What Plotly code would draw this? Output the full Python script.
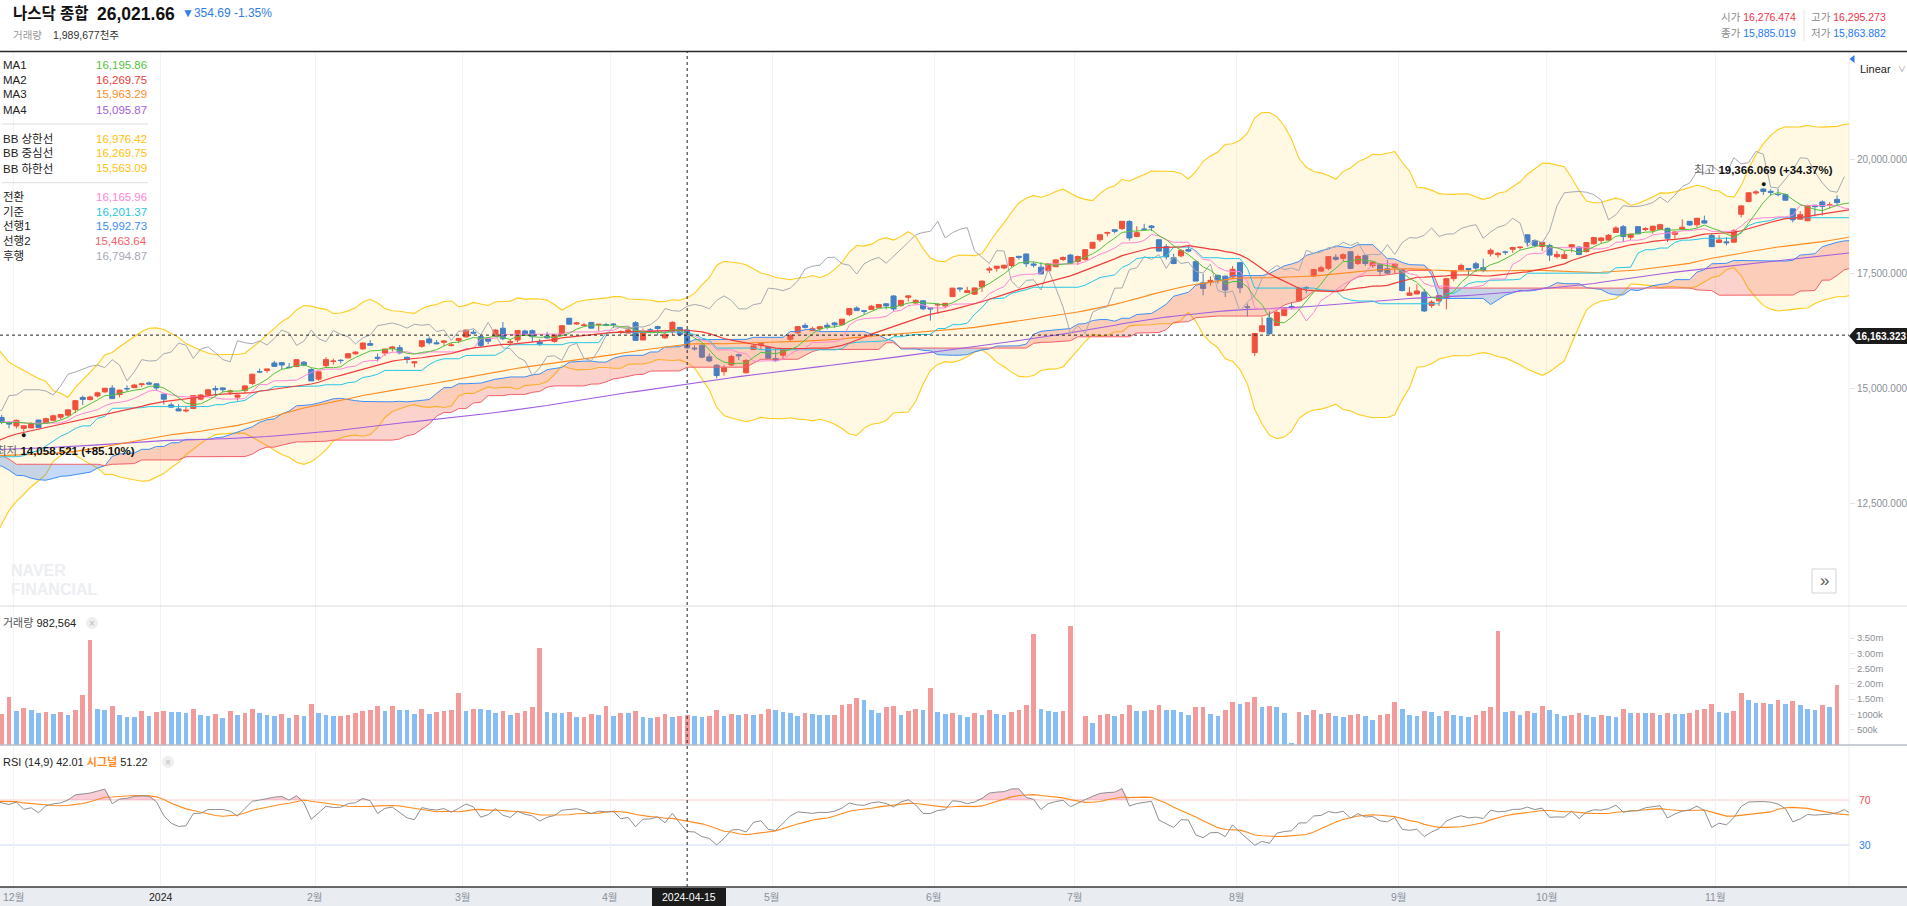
import numpy as np
import pandas as pd
import plotly.graph_objects as go

# ---------------- data (NASDAQ Composite, daily) ----------------
# closes used only as indicator warm-up (Jun 1 - Nov 28, 2023)
warm_closes = [
    13100.98, 13240.77, 13229.43, 13276.42, 13104.90, 13238.52, 13259.14, 13461.92, 13573.32, 13626.48,
    13782.82, 13689.57, 13667.29, 13502.20, 13630.61, 13492.52, 13335.78, 13555.67, 13591.75, 13591.33,
    13787.92,
    13816.77, 13791.65, 13679.04, 13660.72, 13685.48, 13760.70, 13918.96, 14138.57, 14113.70, 14244.95,
    14353.64, 14358.02, 14063.31, 14032.81, 14058.87, 14144.56, 14127.28, 14050.11, 14316.66, 14346.02,
    14283.91, 13973.45, 13959.72, 13909.24, 13994.40, 13884.32, 13722.02, 13737.99, 13644.85, 13788.33,
    13631.05, 13474.63, 13316.93, 13290.78, 13497.59, 13505.87, 13721.03, 13463.97, 13590.65, 13705.13,
    14019.31, 14095.21, 14034.97,
    14031.82, 14020.95, 13872.47, 13748.83, 13761.53, 13917.89, 13773.61, 13813.59, 13926.05, 13708.34,
    13710.24, 13678.19, 13469.13, 13223.98, 13211.81, 13271.32, 13063.61, 13092.85, 13201.28, 13219.32,
    13307.77, 13059.47, 13236.01, 13219.83, 13431.34, 13484.24, 13562.84, 13659.68, 13574.22, 13407.23,
    13567.98, 13533.75, 13314.30, 13186.18, 12983.81, 13018.33, 13139.88, 12821.22, 12595.61, 12643.01,
    12789.48, 12851.24,
    13061.47, 13294.19, 13478.28, 13518.78, 13639.86, 13650.41, 13521.45, 13798.11, 13767.74, 14094.38,
    14103.84, 14113.67, 14125.48, 14284.53, 14199.98, 14265.86, 14250.85, 14241.02, 14281.76,
]

# visible candles: Nov 29, 2023 (index -2) ... Nov 25, 2024 (index 247)
opens = [
    14367, 14250, 14181, 14128, 14137, 14310, 14240, 14305, 14373, 14416,
    14540, 14803, 14758, 14836, 14925, 15008, 14867, 14997, 15017, 15083,
    15121, 15100, 14874, 14641, 14554, 14509, 14564, 14767, 14862, 14999,
    15012, 14920, 14810, 14955, 15108, 15366, 15392, 15556, 15563, 15464,
    15478, 15574, 15413, 15203, 15497, 15590, 15615, 15668, 15755, 15863,
    15979, 15681, 15771, 15870, 15890, 15680, 15556, 15922, 16080, 15996,
    16006, 15940, 16048, 16124, 16226, 16131, 16100, 16139, 16313, 16002,
    16058, 16254, 16261, 16010, 16143, 16025, 16192, 16532, 16407, 16375,
    16440, 16396, 16394, 16405, 16233, 16208, 16434, 16057, 16282, 16349,
    16104, 16233, 16331, 16276.47, 15880, 15942, 15689, 15507, 15366, 15513,
    15736, 15342, 15849, 15952, 15897, 15652, 15725, 16071, 16215, 16374,
    16260, 16299, 16378, 16429, 16392, 16614, 16755, 16696, 16724, 16760,
    16847, 17018, 16808, 16988, 16863, 16912, 16759, 16823, 16801, 17004,
    17192, 17094, 17058, 17214, 17582, 17620, 17628, 17683, 17883, 17934,
    17717, 17646, 17567, 17657, 17815, 17910, 17769, 17812, 18059, 18244,
    18388, 18462, 18488, 18644, 18316, 18475, 18545, 18244, 18093, 17853,
    17893, 18029, 17766, 17304, 17318, 17466, 17450, 17436, 17744, 16778,
    15783, 16240, 16537, 16375, 16590, 16789, 16911, 17203, 17453, 17560,
    17620, 17862, 17840, 17983, 17726, 17900, 17678, 17710, 17612, 17636,
    17590, 17033, 17062, 17101, 16812, 16911, 16974, 17396, 17588, 17617,
    17721, 17636, 17938, 17918, 17976, 18038, 18074, 18352, 18227, 18096,
    18121, 17876, 17838, 18082, 18085, 17987, 18156, 18230, 18237, 18403,
    18528, 18299, 18530, 18466, 18450, 18470, 18493, 18363, 18474, 18646,
    18571, 18659, 18335, 18186, 18199, 18192, 18799, 19077, 19264, 19352,
    19301, 19232, 19229, 18919, 18692, 18658, 18999, 19070, 18997, 19125,
]
highs = [
    14424, 14270, 14317, 14197, 14264, 14317, 14365, 14428, 14433, 14537,
    14734, 14844, 14840, 14930, 15014, 15072, 14972, 15067, 15101, 15101,
    15150, 15112, 14887, 14689, 14655, 14614, 14845, 14877, 14989, 15058,
    15024, 14975, 14870, 15078, 15311, 15433, 15426, 15600, 15569, 15555,
    15628, 15598, 15443, 15382, 15683, 15651, 15641, 15774, 15810, 16000,
    16053, 15762, 15870, 15930, 15947, 15700, 15594, 16044, 16135, 16057,
    16055, 16004, 16106, 16279, 16283, 16154, 16118, 16289, 16449.70, 16077,
    16270, 16281, 16290, 16078, 16236, 16169, 16370, 16538.86, 16450, 16429,
    16449, 16400, 16426, 16425, 16268, 16332, 16468.04, 16308, 16317, 16369,
    16247, 16462, 16344, 16295.27, 15938, 15958, 15764, 15526, 15507, 15732,
    15761, 15638, 15961, 15984, 15908, 15877, 15865, 16182, 16349, 16425,
    16347, 16348, 16433, 16454, 16511, 16743, 16791, 16700, 16822, 16834,
    16860, 17032, 16935, 17032, 16950, 16917, 16760, 16856, 16868, 17194,
    17203, 17220, 17198, 17345, 17659, 17672, 17694, 17862, 17891, 17937,
    17755, 17755, 17723, 17824, 17880, 17936, 17899, 18029, 18189, 18360,
    18416, 18477, 18647, 18672, 18542, 18593, 18564, 18257, 18149, 17938,
    18040, 18108, 17804, 17503, 17446, 17486, 17465, 17671, 17764, 16850,
    16212, 16553, 16682, 16688, 16780, 16871, 17199, 17235, 17609, 17682,
    17877, 17929, 17949, 17988, 17925, 17924, 17775, 17737, 17800, 17724,
    17598, 17210, 17274, 17170, 16924, 17028, 17403, 17574, 17723, 17619,
    17764, 17833, 18053, 17978, 18005, 18075, 18106, 18362, 18250, 18189,
    18156, 17996, 17999, 18141, 18098, 18193, 18305, 18308, 18368, 18540,
    18567, 18381, 18537, 18520, 18548, 18593, 18511, 18425, 18690, 18655,
    18725, 18771, 18375, 18344, 18303, 18475, 19000, 19269, 19326, 19366.069,
    19351, 19357, 19245, 18920, 18868, 19007, 19002, 19107, 19066, 19213,
]
lows = [
    14221, 14127, 14125, 14058.521, 14136, 14142, 14230, 14284, 14325, 14382,
    14466, 14640, 14737, 14804, 14910, 14777, 14806, 14932, 15017, 15029,
    15080, 14955, 14647, 14575, 14506, 14477.58, 14564, 14743, 14849, 14836,
    14922, 14857, 14735, 14906, 15074, 15338, 15338, 15474, 15411, 15450,
    15466, 15484, 15161, 15166.5, 15453, 15524, 15545, 15651, 15739, 15845,
    15935, 15586, 15710, 15802, 15747, 15545, 15459, 15888, 15959, 15969,
    15929, 15912, 15986, 16122, 16180, 15905, 15967, 16120, 16053, 15939,
    16002, 16154, 16006, 15925, 16087, 15999, 16143, 16400, 16385, 16362,
    16311, 16250, 16359, 16319, 16188, 16197, 16048, 16056, 16236, 16153,
    16083, 16167, 16141, 15863.88, 15825, 15659, 15575, 15223, 15281, 15489,
    15620, 15326, 15847, 15843, 15657, 15584, 15630, 16019, 16185, 16304,
    16259, 16251, 16289, 16327, 16374, 16579, 16690, 16621, 16711, 16755,
    16727, 16688, 16778, 16897, 16851, 16706, 16479, 16631, 16753, 16993,
    17110, 17090, 17047, 17106, 17519, 17553, 17600, 17638, 17812, 17649,
    17638, 17497, 17554, 17650, 17778, 17725, 17695, 17786, 18048, 18199,
    18319, 18383, 18458, 18227, 18302, 18453, 18432, 17989, 17812, 17708,
    17860, 17970, 17340, 17033, 17243, 17287, 16993, 17413, 17076, 16571,
    15708, 16224, 16160, 16363, 16585, 16716, 16901, 17076, 17431, 17543,
    17586, 17788, 17777, 17602, 17694, 17671, 17634, 17461, 17489, 17505,
    17115, 17019, 17056, 16666, 16758, 16801, 16725, 17339, 17576, 17487,
    17542, 17535, 17881, 17852, 17913, 17959, 18030, 18100, 18087, 17997,
    17781, 17836, 17835, 17969, 17903, 17965, 18135, 18158, 18223, 18402,
    18193, 18245, 18361, 18432, 18380, 18450, 18196, 18265, 18458, 18545,
    18512, 18597, 18084, 18175, 18122, 18189, 18735, 19075, 19225, 19222,
    19204, 19191, 19098, 18622, 18685, 18652, 18758, 18775, 18926, 19002,
]
closes = [
    14258.49, 14226.22, 14305.03, 14185.49, 14229.91, 14146.71, 14339.99, 14403.97, 14432.49, 14533.40,
    14733.96, 14761.56, 14813.92, 14904.81, 15003.22, 14777.94, 14963.87, 14992.97, 15074.57, 15099.18,
    15095.14, 15011.35, 14765.94, 14592.21, 14510.30, 14524.07, 14843.77, 14857.71, 14969.65, 14970.19,
    14972.76, 14944.35, 14855.62, 15055.65, 15310.97, 15360.29, 15425.94, 15481.92, 15510.50, 15455.36,
    15628.04, 15509.90, 15164.01, 15361.64, 15628.95, 15597.68, 15609.00, 15756.64, 15793.72, 15990.66,
    15942.55, 15655.60, 15859.15, 15906.17, 15775.65, 15630.78, 15580.87, 16041.62, 15996.82, 15976.25,
    16035.30, 15947.74, 16091.92, 16274.94, 16207.51, 15939.59, 16031.54, 16273.38, 16085.11, 16019.27,
    16265.64, 16177.77, 16128.53, 15973.17, 16103.45, 16166.79, 16369.41, 16401.84, 16428.82, 16384.47,
    16315.70, 16399.52, 16379.46, 16396.83, 16240.45, 16277.46, 16049.08, 16248.52, 16253.96, 16306.64,
    16170.36, 16442.20, 16175.09, 15885.02, 15865.25, 15683.37, 15601.50, 15282.01, 15451.31, 15696.64,
    15712.75, 15611.76, 15927.90, 15983.08, 15657.82, 15605.48, 15840.96, 16156.33, 16349.25, 16332.56,
    16302.76, 16346.26, 16340.87, 16388.24, 16511.18, 16742.39, 16698.32, 16685.97, 16794.87, 16832.62,
    16801.54, 16736.03, 16920.79, 17019.88, 16920.58, 16737.08, 16735.02, 16828.67, 16857.05, 17187.90,
    17173.12, 17133.13, 17192.53, 17343.55, 17608.44, 17667.56, 17688.88, 17857.02, 17862.23, 17721.59,
    17689.36, 17496.82, 17717.65, 17805.16, 17858.68, 17732.60, 17879.30, 18028.76, 18188.30, 18352.76,
    18403.74, 18429.29, 18647.45, 18283.41, 18398.45, 18472.57, 18509.34, 17996.92, 17871.22, 17726.94,
    18007.57, 17997.35, 17342.41, 17181.72, 17357.88, 17370.20, 17147.42, 17599.40, 17194.15, 16776.16,
    16200.08, 16366.85, 16195.81, 16660.02, 16745.30, 16780.61, 17187.61, 17192.60, 17594.50, 17631.72,
    17876.77, 17816.94, 17918.99, 17619.35, 17877.79, 17725.77, 17754.82, 17556.03, 17516.43, 17713.62,
    17136.30, 17084.30, 17127.66, 16690.83, 16884.60, 17025.88, 17395.53, 17569.68, 17683.98, 17592.13,
    17628.06, 17573.30, 18013.98, 17948.32, 17974.27, 18074.52, 18082.21, 18190.29, 18119.59, 18189.17,
    17910.36, 17925.12, 17918.48, 18137.85, 17923.90, 18182.92, 18291.62, 18282.05, 18342.94, 18502.69,
    18315.59, 18367.08, 18373.61, 18489.55, 18540.01, 18573.13, 18276.65, 18415.49, 18518.61, 18567.19,
    18712.75, 18607.93, 18095.15, 18239.92, 18179.98, 18439.17, 18983.47, 19269.46, 19286.78, 19298.76,
    19281.40, 19230.74, 19107.65, 18680.12, 18791.81, 18987.47, 18966.14, 18972.42, 19003.65, 19054.84,
]
volumes = [
    1022000, 1556000, 1113000, 1216000, 1159000, 1056000, 1079000, 1022000, 1079000, 988000,
    1159000, 1624000, 3431000, 1181000, 1159000, 1261000, 988000, 920000, 909000, 1125000,
    943000, 1091000, 1125000, 1079000, 1068000, 1034000, 1193000, 977000, 943000, 1022000,
    875000, 1125000, 988000, 1056000, 1193000, 1045000, 988000, 943000, 1022000, 875000,
    988000, 943000, 1329000, 1045000, 988000, 943000, 954000, 988000, 1056000, 1113000,
    1136000, 1261000, 1125000, 1261000, 1159000, 1147000, 1011000, 1193000, 1011000, 1091000,
    1113000, 1136000, 1704000, 1125000, 1193000, 1181000, 1159000, 1045000, 1125000, 988000,
    1056000, 1125000, 1227000, 3169000, 1079000, 1056000, 1045000, 1091000, 909000, 932000,
    1011000, 988000, 1261000, 943000, 1045000, 1034000, 1125000, 909000, 875000, 909000,
    1022000, 909000, 943000, 982564, 943000, 909000, 943000, 1159000, 943000, 1022000,
    988000, 1022000, 988000, 1000000, 1193000, 1159000, 1091000, 1045000, 943000, 1045000,
    1022000, 988000, 977000, 988000, 1295000, 1352000, 1522000, 1465000, 1159000, 1045000,
    1227000, 1261000, 988000, 1125000, 1193000, 1159000, 1874000, 1091000, 1022000, 1056000,
    988000, 920000, 1056000, 988000, 1159000, 1022000, 988000, 1091000, 1159000, 1295000,
    3647000, 1193000, 1125000, 1091000, 1102000, 3896000, 0, 943000, 704000, 988000,
    1022000, 943000, 1022000, 1295000, 1125000, 1113000, 1159000, 1295000, 1159000, 1147000,
    1091000, 988000, 1227000, 1238000, 1022000, 943000, 1159000, 1397000, 1352000, 1397000,
    1556000, 1227000, 1261000, 1227000, 1045000, 57000, 1091000, 988000, 1159000, 1022000,
    1056000, 943000, 909000, 988000, 1022000, 943000, 818000, 988000, 1022000, 1397000,
    1193000, 988000, 943000, 1125000, 1091000, 943000, 1125000, 988000, 943000, 909000,
    988000, 1125000, 1227000, 3715000, 1091000, 1125000, 988000, 1125000, 1045000, 1261000,
    1159000, 1022000, 943000, 988000, 1056000, 988000, 909000, 988000, 943000, 909000,
    1193000, 1045000, 1056000, 1045000, 1056000, 988000, 1045000, 1022000, 1011000, 1056000,
    1159000, 1193000, 1352000, 1091000, 1045000, 1125000, 1704000, 1465000, 1363000, 1375000,
    1352000, 1465000, 1329000, 1431000, 1295000, 1193000, 1159000, 1295000, 1227000, 1977000,
]
# closes after the visible window (Nov 26, 2024 - Jan 3, 2025), used by lagging line / edge
post_closes = [
    19174.30, 19060.48, 19218.17, 19403.95, 19480.91, 19735.12, 19700.71, 19859.77, 19736.69, 19687.24,
    20034.89, 19902.84, 19926.72, 20173.89, 20109.06, 19392.69, 19372.77, 19572.60, 19764.89, 20031.13,
    20020.36, 19722.03, 19486.79, 19310.79, 19280.79, 19621.68,
]

first_index = -2
month_idx = [0, 20, 41, 61, 81, 103, 125, 144, 166, 188, 208, 231]
month_text = ['12월', '2024', '2월', '3월', '4월', '5월', '6월', '7월', '8월', '9월', '10월', '11월']

price_ticks = [12500, 15000, 17500, 20000]
price_tick_text = ['12,500.000', '15,000.000', '17,500.000', '20,000.000']
vol_ticks = [500000, 1000000, 1500000, 2000000, 2500000, 3000000, 3500000]
vol_tick_text = ['500k', '1000k', '1.50m', '2.00m', '2.50m', '3.00m', '3.50m']

legend_labels = ['MA1', 'MA2', 'MA3', 'MA4', 'BB 상한선', 'BB 중심선', 'BB 하한선',
                 '전환', '기준', '선행1', '선행2', '후행']
legend_values = ['16,195.86', '16,269.75', '15,963.29', '15,095.87', '16,976.42', '16,269.75',
                 '15,563.09', '16,165.96', '16,201.37', '15,992.73', '15,463.64', '16,794.87']

cross_idx = 91            # 2024-04-15
cross_price = 16163.323

assert len(opens) == len(highs) == len(lows) == len(closes) == len(volumes) == 250

# ---------------- styling ----------------
W_, H_ = 1907, 906
FONT = 'Liberation Sans, Noto Sans CJK KR, sans-serif'
UP, DN = '#ee3535', '#1f6fd8'
C_MA = ['#55c23a', '#f03c3c', '#ff8a1e', '#a35ee0']
C_BB = '#ffcc1f'
C_TEN, C_KIJ, C_S1, C_S2, C_CHI = '#ff86d9', '#26c6e4', '#3d8ff5', '#f4606a', '#a6aab4'
LEG_COLORS = C_MA + ['#ffc10a'] * 3 + [C_TEN, C_KIJ, C_S1, C_S2, C_CHI]


def PX(x):
    return x / W_


def PY(y):
    return 1 - y / H_


PLOT_R = 1849
XD = PLOT_R / W_
SPACING = 7.371
X0 = 16.4
XR = [(0 - X0) / SPACING, (PLOT_R - X0) / SPACING]

# price axis: 20,000 at y=159.3px, 21.82 units/px
PPU = 21.82
main_top, main_bot = 52, 606
vol_bot = 745
rsi_bot = 887
YR = [20000 - (main_bot - 159.3) * PPU, 20000 + (159.3 - main_top) * PPU]
VPP = 32710.0
VR = [0, (vol_bot - main_bot) * VPP]
RPP = 1.125
RR = [30 - (rsi_bot - 845) / RPP, 70 + (800 - vol_bot) / RPP]

# ---------------- indicators ----------------
Wn = len(warm_closes)
close_all = pd.Series(warm_closes + closes + post_closes, dtype=float)
high_all = pd.Series(warm_closes + highs + post_closes, dtype=float)
low_all = pd.Series(warm_closes + lows + post_closes, dtype=float)
vis = np.arange(len(close_all)) - Wn + first_index

ma = [close_all.rolling(n).mean() for n in (5, 20, 60, 120)]
sd20 = close_all.rolling(20).std(ddof=0)
bb_up = ma[1] + 5 * sd20
bb_dn = ma[1] - 5 * sd20
tenkan = (high_all.rolling(9).max() + low_all.rolling(9).min()) / 2
kijun = (high_all.rolling(26).max() + low_all.rolling(26).min()) / 2
span1 = ((tenkan + kijun) / 2).shift(25)
span2 = ((high_all.rolling(52).max() + low_all.rolling(52).min()) / 2).shift(25)
chikou = close_all.shift(-25)

delta = close_all.diff()
gain = delta.clip(lower=0)
loss = (-delta).clip(lower=0)
ag = gain.ewm(alpha=1 / 14, adjust=False).mean()
al = loss.ewm(alpha=1 / 14, adjust=False).mean()
rsi = 100 * ag / (ag + al)
rsi_sig = rsi.rolling(9).mean()

sel = (vis >= -3) & (vis <= 249)
xs = vis[sel]


def S(s):
    return s.to_numpy()[sel]


cx = np.arange(first_index, first_index + len(closes))
VUP, VDN = '#f39a9b', '#86bdf5'
vcol = [VUP] + [(VUP if volumes[i] > volumes[i - 1] else VDN) for i in range(1, len(volumes))]

fig = go.Figure()


def line(y, color, width=1.0, ax=('x', 'y'), **kw):
    fig.add_trace(go.Scatter(x=xs, y=y, mode='lines', line=dict(color=color, width=width),
                             xaxis=ax[0], yaxis=ax[1], hoverinfo='skip', **kw))


# Bollinger band area
line(S(bb_dn), C_BB, 1.1)
line(S(bb_up), C_BB, 1.1, fill='tonexty', fillcolor='rgba(255,214,90,0.17)')

# Ichimoku cloud
s1, s2 = S(span1), S(span2)
top = np.fmax(s1, s2)
line(s2, 'rgba(0,0,0,0)', 0)
line(top, 'rgba(0,0,0,0)', 0, fill='tonexty', fillcolor='rgba(245,105,85,0.30)')
line(s1, 'rgba(0,0,0,0)', 0)
line(top, 'rgba(0,0,0,0)', 0, fill='tonexty', fillcolor='rgba(70,130,235,0.30)')
line(s1, C_S1, 1.0)
line(s2, C_S2, 1.0)

line(S(ma[3]), C_MA[3], 1.1)
line(S(ma[2]), C_MA[2], 1.1)
line(S(chikou), C_CHI, 1.0)
line(S(kijun), C_KIJ, 1.0)
line(S(tenkan), C_TEN, 1.0)
line(S(ma[1]), C_MA[1], 1.2)
line(S(ma[0]), C_MA[0], 1.0)

fig.add_trace(go.Candlestick(
    x=cx, open=opens, high=highs, low=lows, close=closes,
    increasing=dict(line=dict(color=UP, width=1), fillcolor=UP),
    decreasing=dict(line=dict(color=DN, width=1), fillcolor=DN),
    whiskerwidth=0, xaxis='x', yaxis='y', hoverinfo='skip'))

# volume
fig.add_trace(go.Bar(x=cx, y=volumes, marker=dict(color=vcol, line=dict(width=0)), width=0.64,
                     xaxis='x2', yaxis='y2', hoverinfo='skip'))

# RSI
rv = S(rsi)
line(np.full(len(xs), 70.0), 'rgba(0,0,0,0)', 0, ax=('x3', 'y3'))
line(np.fmax(rv, 70), 'rgba(0,0,0,0)', 0, ax=('x3', 'y3'), fill='tonexty', fillcolor='rgba(238,110,140,0.35)')
line(np.full(len(xs), 30.0), 'rgba(0,0,0,0)', 0, ax=('x3', 'y3'))
line(np.fmin(rv, 30), 'rgba(0,0,0,0)', 0, ax=('x3', 'y3'), fill='tonexty', fillcolor='rgba(80,140,235,0.30)')
line(S(rsi_sig), '#ff8b1f', 1.1, ax=('x3', 'y3'))
line(rv, '#8f8f8f', 1.0, ax=('x3', 'y3'))

# ---------------- shapes ----------------
shapes = []


def hline(y, x0, x1, color, width=1, dash=None, layer='above'):
    shapes.append(dict(type='line', xref='paper', yref='paper', x0=PX(x0), x1=PX(x1), y0=PY(y), y1=PY(y),
                       line=dict(color=color, width=width, dash=dash), layer=layer))


def vline(x, y0, y1, color, width=1, layer='above'):
    shapes.append(dict(type='line', xref='paper', yref='paper', x0=PX(x), x1=PX(x), y0=PY(y0), y1=PY(y1),
                       line=dict(color=color, width=width), layer=layer))


def poly(pts, fill, line_color=None):
    d = 'M ' + ' L '.join(f'{PX(a):.6f},{PY(b):.6f}' for a, b in pts) + ' Z'
    shapes.append(dict(type='path', xref='paper', yref='paper', path=d, fillcolor=fill,
                       line=dict(color=line_color or fill, width=1 if line_color else 0), layer='above'))


# x-axis band
shapes.append(dict(type='rect', xref='paper', yref='paper', x0=0, x1=1, y0=0, y1=PY(rsi_bot),
                   fillcolor='#e9ecf1', line=dict(width=0), layer='below'))
vline(PLOT_R, main_top, rsi_bot, '#eceef2', 1, layer='below')
hline(51.5, 0, W_, '#2a2a2a', 1.6)
hline(main_bot, 0, W_, '#d9dce1', 1)
hline(vol_bot, 0, W_, '#b9bdc5', 1.3)
hline(rsi_bot, 0, W_, '#3a3a3a', 1.6)
# RSI guide lines
shapes.append(dict(type='line', xref='paper', yref='y3', x0=0, x1=XD, y0=70, y1=70,
                   line=dict(color='#f6cccc', width=1), layer='below'))
shapes.append(dict(type='line', xref='paper', yref='y3', x0=0, x1=XD, y0=30, y1=30,
                   line=dict(color='#cbdcf5', width=1), layer='below'))
# crosshair
shapes.append(dict(type='line', xref='x', yref='paper', x0=cross_idx, x1=cross_idx, y0=PY(rsi_bot), y1=PY(main_top),
                   line=dict(color='#222', width=1, dash='dot'), layer='above'))
shapes.append(dict(type='line', xref='paper', yref='y', x0=0, x1=XD, y0=cross_price, y1=cross_price,
                   line=dict(color='#222', width=1, dash='dot'), layer='above'))
# legend separators
hline(124, 2, 148, '#dddddd', 1)
hline(182.7, 2, 148, '#dddddd', 1)
# header separator
vline(1804, 9, 41, '#e6e6e6', 1)
# price tag
poly([(1849, 336), (1856, 328), (1907, 328), (1907, 344), (1856, 344)], '#1b1b1b')
# date tag
shapes.append(dict(type='rect', xref='paper', yref='paper', x0=PX(652), x1=PX(726), y0=PY(906), y1=PY(888),
                   fillcolor='#1b1b1b', line=dict(width=0), layer='above'))
# small blue marker at top right
poly([(1849.5, 59), (1854.5, 55), (1854.5, 63)], '#2f7de8')
# scroll button
shapes.append(dict(type='rect', xref='paper', yref='paper', x0=PX(1812), x1=PX(1836), y0=PY(593), y1=PY(569),
                   fillcolor='white', line=dict(color='#d0d3d8', width=1), layer='above'))
# close "x" circles
for cxp, cyp in [(92, 623), (168, 762)]:
    shapes.append(dict(type='circle', xref='paper', yref='paper', x0=PX(cxp - 6), x1=PX(cxp + 6),
                       y0=PY(cyp + 6), y1=PY(cyp - 6), fillcolor='#efefef', line=dict(width=0), layer='above'))

# ---------------- annotations ----------------
ann = []


def text(x, y, t, size=11, color='#222', xanchor='left', yanchor='middle', **kw):
    ann.append(dict(x=PX(x), y=PY(y), xref='paper', yref='paper', text=t, showarrow=False,
                    xanchor=xanchor, yanchor=yanchor, font=dict(size=size, color=color, family=FONT), **kw))


text(11, 14, '<b>나스닥 종합</b>', 15.5, '#111')
text(95, 14, '<b>26,021.66</b>', 17.5, '#111')
text(180, 13, '▼354.69 -1.35%', 12, '#2f7de8')
text(11, 35, '거래량', 10.5, '#9a9a9a')
text(51, 35, '1,989,677천주', 10.5, '#333')
text(1798, 17, "<span style='color:#8b8b8b'>시가</span> 16,276.474", 10.5, '#f0324b', xanchor='right')
text(1888, 17, "<span style='color:#8b8b8b'>고가</span> 16,295.273", 10.5, '#f0324b', xanchor='right')
text(1798, 33, "<span style='color:#8b8b8b'>종가</span> 15,885.019", 10.5, '#1e78f0', xanchor='right')
text(1888, 33, "<span style='color:#8b8b8b'>저가</span> 15,863.882", 10.5, '#1e78f0', xanchor='right')
text(1858, 69, 'Linear', 11, '#222')
text(1896, 70, '∨', 8, '#9a9a9a')

leg_y = [64.7, 79.7, 94.3, 109.7, 138.7, 153.3, 168, 196.7, 211.7, 226, 241, 255.7]
for lab, val, col, yy in zip(legend_labels, legend_values, LEG_COLORS, leg_y):
    text(1, yy, lab, 11.5, '#222')
    text(149, yy, val, 11.5, col, xanchor='right')

# faint watermark
text(10, 580, '<b>NAVER</b>', 16, '#eceef2', yanchor='bottom', borderpad=0)
text(10, 580, '<b>FINANCIAL</b>', 16, '#eceef2', yanchor='top', borderpad=0)
text(1824, 580, '»', 17, '#555', xanchor='center')

text(1, 623, "<span style='color:#555'>거래량</span> 982,564", 11, '#222')
text(1, 762, "RSI (14,9) 42.01 <span style='color:#ff8b1f'><b>시그널</b></span> 51.22", 11, '#222')
text(92, 623, '×', 10, '#bbbbbb', xanchor='center')
text(168, 762, '×', 10, '#bbbbbb', xanchor='center')

text(1857, 800, '70', 10.5, '#f04f4f')
text(1857, 845, '30', 10.5, '#2f7df0')
text(1881, 336, '<b>16,163.323</b>', 10, 'white', xanchor='center')
text(689, 897, '2024-04-15', 10.5, 'white', xanchor='center')

for mi, mt in zip(month_idx, month_text):
    px = X0 + (mi - 0.45) * SPACING
    text(px, 897, mt, 10.5, '#222' if mt == '2024' else '#8a909a', xanchor='center')

# high / low markers derived from the data
imax = int(np.argmax(highs)); imin = int(np.argmin(lows))
hx, hy = cx[imax], highs[imax]
lx, ly = cx[imin], lows[imin]
for (ax_, ay_, ys_) in [(hx, hy, 4), (lx, ly, -3)]:
    ann.append(dict(x=ax_, y=ay_, xref='x', yref='y', text='●', showarrow=False, yshift=ys_,
                    font=dict(size=9, color='#111', family=FONT)))
ann.append(dict(x=hx, y=hy, xref='x', yref='y', showarrow=False, yshift=18, xanchor='center',
                text=f"<span style='color:#666'>최고</span> <b>{hy:,.3f} (+34.37%)</b>",
                font=dict(size=11.5, color='#111', family=FONT)))
ann.append(dict(x=lx, y=ly, xref='x', yref='y', showarrow=False, yshift=-19, xanchor='right', xshift=113,
                text=f"<span style='color:#666'>최저</span> <b>{ly:,.3f} (+85.10%)</b>",
                font=dict(size=11.5, color='#111', family=FONT)))

# ---------------- layout ----------------
tv = [m - 0.45 for m in month_idx]
xcommon = dict(domain=[0, XD], range=XR, showticklabels=False, tickvals=tv, showgrid=True,
               gridcolor='#f2f3f5', gridwidth=1, zeroline=False, showline=False, ticks='', fixedrange=True)
fig.update_layout(
    width=W_, height=H_, margin=dict(l=0, r=0, t=0, b=0),
    paper_bgcolor='white', plot_bgcolor='white', showlegend=False,
    font=dict(family=FONT), boxgap=0.32, boxgroupgap=0, bargap=0,
    xaxis=dict(anchor='y', rangeslider=dict(visible=False), **xcommon),
    xaxis2=dict(anchor='y2', matches='x', **xcommon),
    xaxis3=dict(anchor='y3', matches='x', **xcommon),
    yaxis=dict(domain=[PY(main_bot), PY(main_top)], range=YR, side='right', anchor='x',
               showgrid=False, zeroline=False, tickvals=price_ticks, ticktext=price_tick_text,
               tickfont=dict(size=10, color='#8c8f95', family=FONT), ticks='outside', ticklen=5,
               tickcolor='#e4e6ea', showline=False, fixedrange=True),
    yaxis2=dict(domain=[PY(vol_bot), PY(main_bot)], range=VR, side='right', anchor='x2',
                showgrid=False, zeroline=False, tickvals=vol_ticks, ticktext=vol_tick_text,
                tickfont=dict(size=9.5, color='#8c8f95', family=FONT), ticks='outside', ticklen=5,
                tickcolor='#e4e6ea', showline=False, fixedrange=True),
    yaxis3=dict(domain=[PY(rsi_bot), PY(vol_bot)], range=RR, side='right', anchor='x3',
                showgrid=False, zeroline=False, showticklabels=False, ticks='', fixedrange=True),
    shapes=shapes, annotations=ann,
)

fig.write_html('out.html', config=dict(displayModeBar=False))
